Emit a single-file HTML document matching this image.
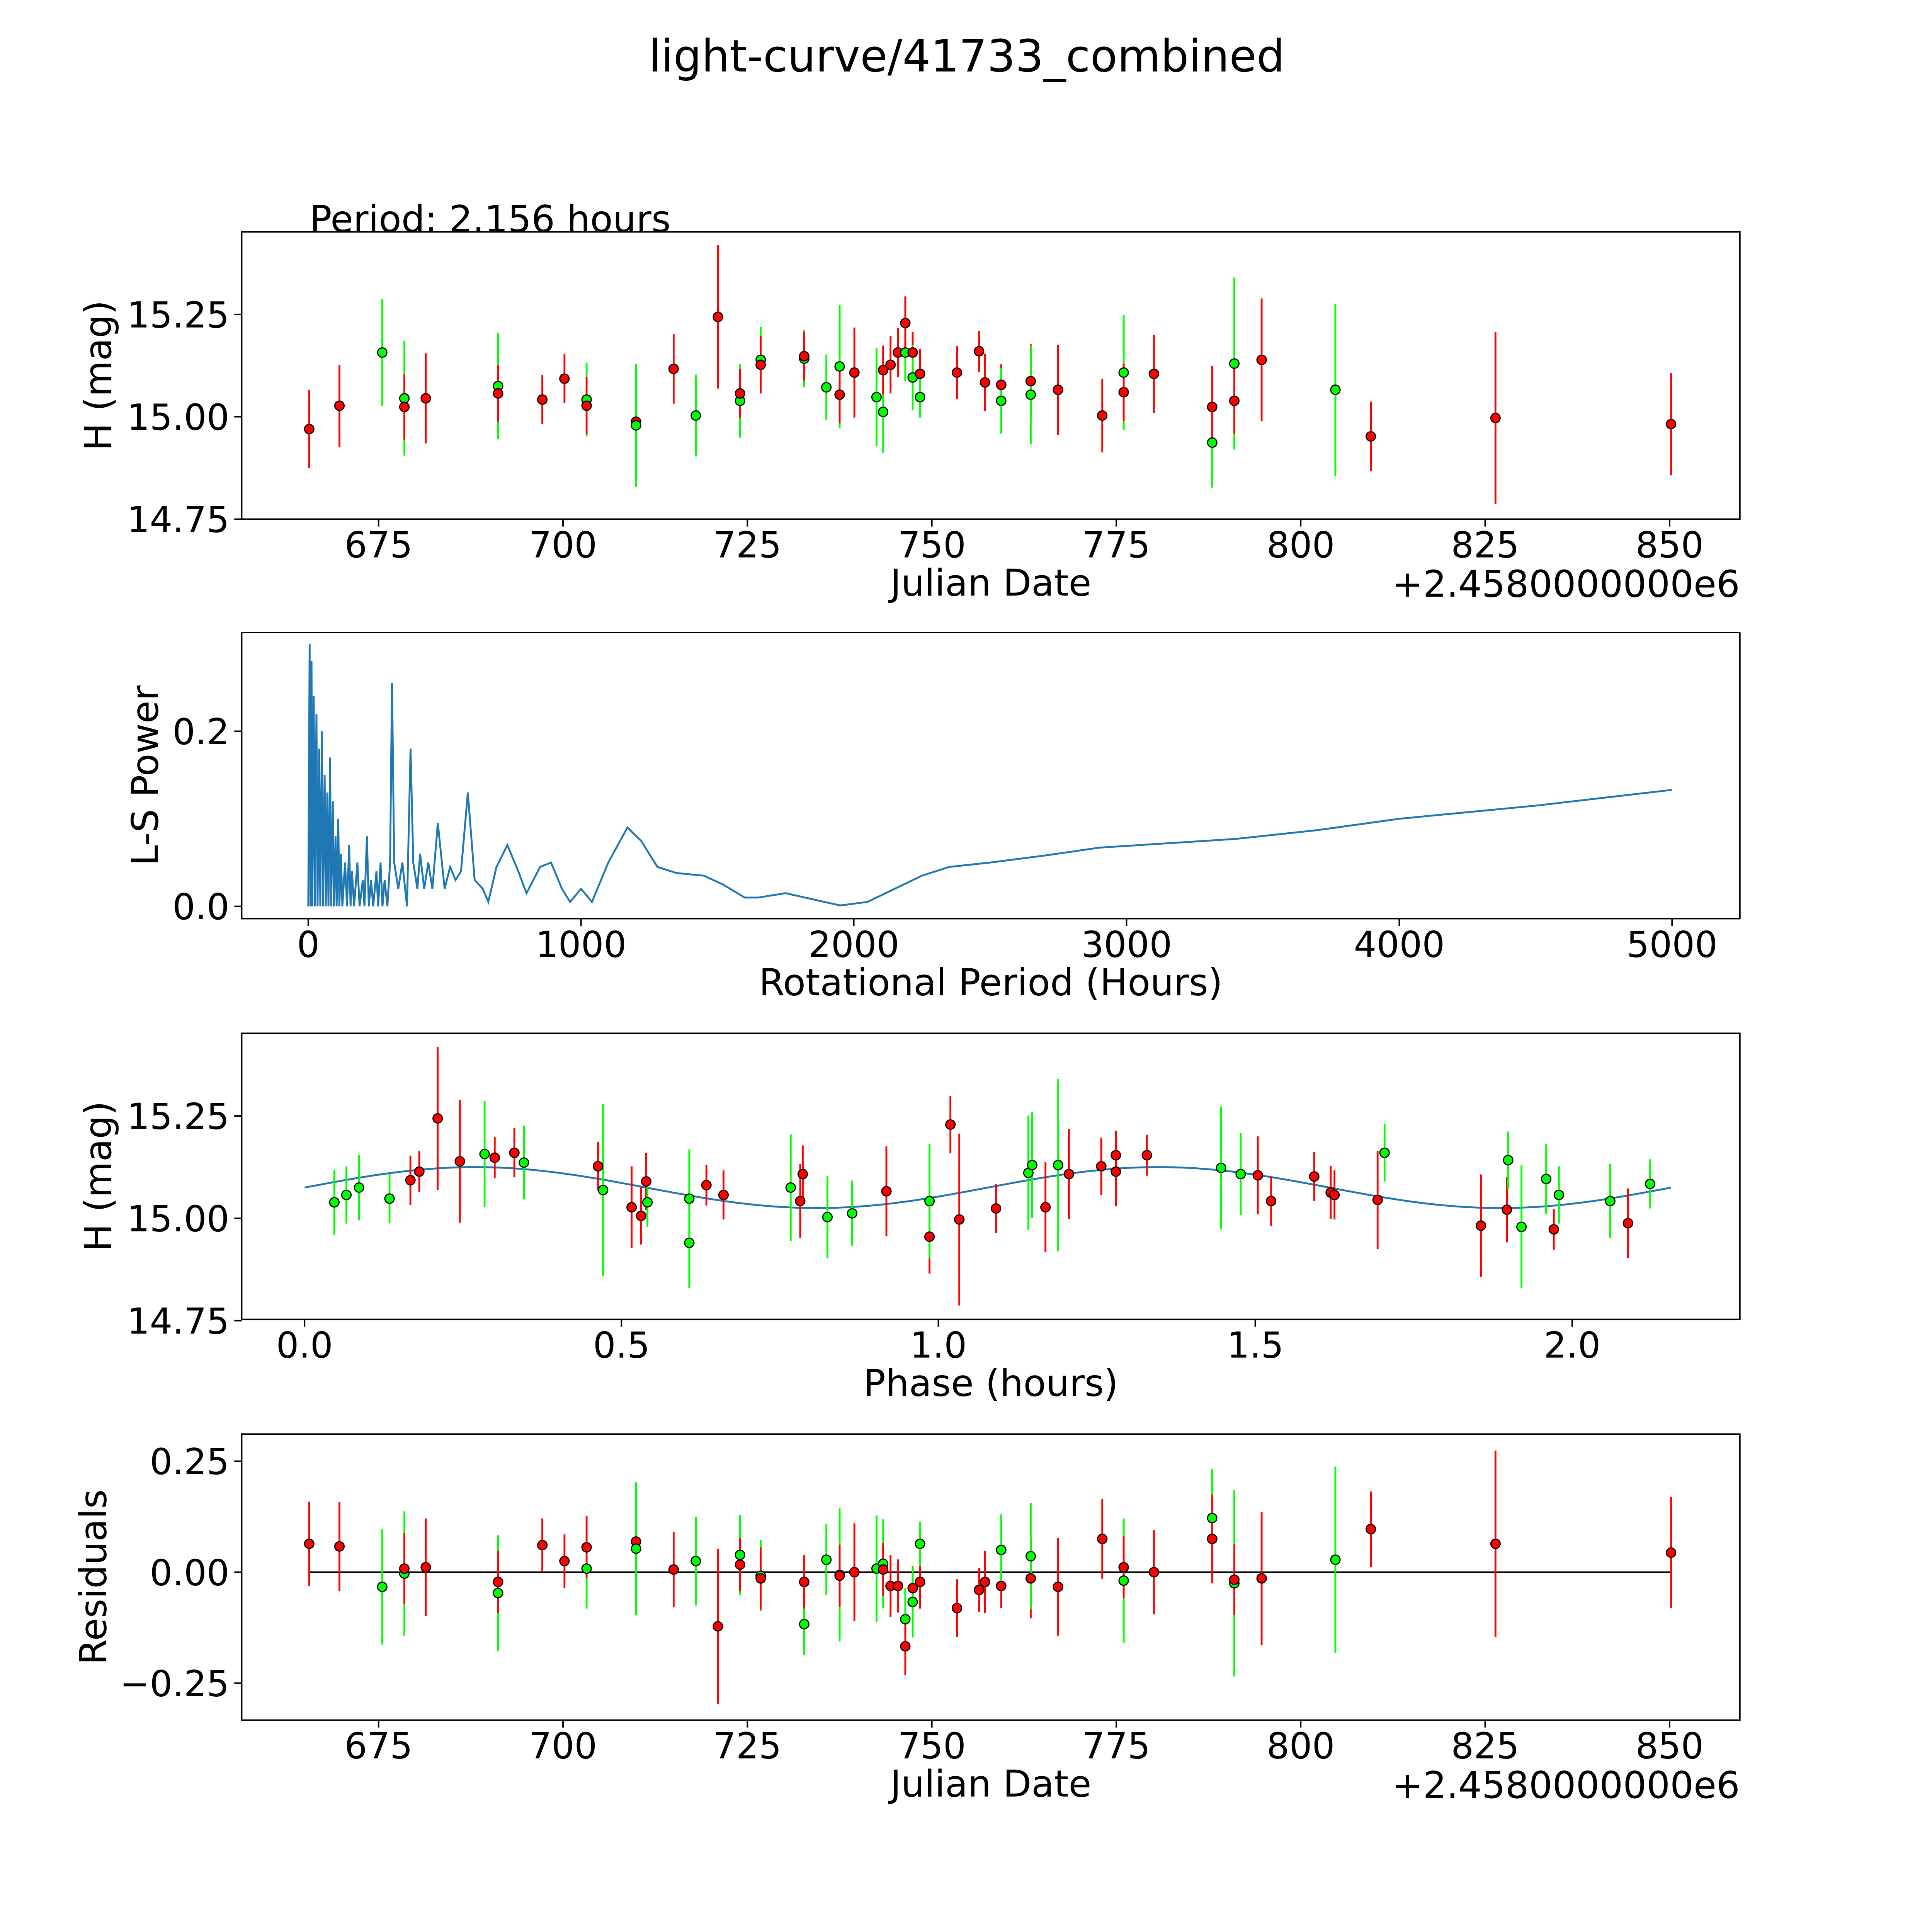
<!DOCTYPE html>
<html><head><meta charset="utf-8"><style>
html,body{margin:0;padding:0;background:#fff;width:100vw;height:100vh;overflow:hidden}
svg{display:block}
text{font-family:"DejaVu Sans","Liberation Sans",sans-serif;fill:#000}
</style></head><body>
<svg id="fig" xmlns="http://www.w3.org/2000/svg" width="4990" height="4990">
<rect width="4990" height="4990" fill="#fff"/>
<g transform="scale(3.1912)">
<text x="784" y="58" font-size="36" text-anchor="middle">light-curve/41733_combined</text>
<text x="251" y="188" font-size="30">Period: 2.156 hours</text>
<g id="g1"></g>
<g id="g2"></g>
<g id="g3"></g>
<g id="g4"></g>
</g>
</svg>
<script>
// ---- data ----
const dates=[665.6,669.7,675.5,678.5,678.5,681.4,691.2,691.2,697.2,700.2,703.2,703.2,709.9,709.9,715,718,721,724,724,726.8,726.8,732.7,732.7,735.7,737.5,737.5,739.5,742.5,743.4,743.4,744.4,745.4,746.4,746.4,747.4,747.4,748.4,748.4,753.4,756.4,757.2,759.4,759.4,763.4,763.4,767.1,773.1,776,776,780.1,788,788,791,791,794.7,804.7,809.5,826.4,850.2];
const mags=[14.97,15.027,15.157,15.045,15.024,15.045,15.075,15.057,15.042,15.093,15.042,15.027,14.988,14.979,15.117,15.003,15.244,15.039,15.057,15.139,15.127,15.142,15.148,15.072,15.123,15.054,15.108,15.048,15.012,15.114,15.127,15.157,15.157,15.229,15.157,15.096,15.105,15.048,15.108,15.16,15.084,15.078,15.039,15.087,15.054,15.066,15.003,15.108,15.06,15.105,14.937,15.024,15.13,15.039,15.139,15.066,14.952,14.997,14.982];
const errs=[0.095,0.1,0.13,0.14,0.08,0.11,0.13,0.07,0.06,0.06,0.09,0.07,0.08,0.15,0.085,0.1,0.175,0.09,0.06,0.08,0.07,0.07,0.06,0.08,0.15,0.07,0.11,0.12,0.1,0.06,0.07,0.06,0.07,0.065,0.05,0.08,0.06,0.05,0.065,0.05,0.07,0.05,0.08,0.09,0.12,0.11,0.09,0.14,0.07,0.095,0.11,0.1,0.21,0.08,0.15,0.21,0.085,0.21,0.125];
const bands="rrggrrgrrrgrrgrgrgrgrgrggrrggrrrgrrgrgrrrrgrgrrgrrgrgrrgrrr";
const resid=[0.064,0.058,-0.033,-0.003,0.008,0.011,-0.047,-0.022,0.061,0.025,0.008,0.056,0.069,0.053,0.006,0.025,-0.122,0.039,0.017,-0.008,-0.014,-0.117,-0.022,0.028,-0.006,-0.008,0,0.008,0.019,0.006,-0.031,-0.031,-0.106,-0.167,-0.036,-0.067,-0.022,0.064,-0.081,-0.04,-0.022,-0.031,0.05,-0.014,0.036,-0.033,0.075,-0.019,0.011,0,0.122,0.075,-0.025,-0.017,-0.014,0.028,0.097,0.064,0.044];
const phases=[0.047,0.066,0.086,0.134,0.167,0.181,0.21,0.245,0.284,0.3,0.331,0.346,0.463,0.471,0.516,0.531,0.539,0.541,0.607,0.607,0.634,0.661,0.767,0.782,0.786,0.825,0.864,0.918,0.986,0.986,1.019,1.033,1.091,1.142,1.148,1.169,1.189,1.206,1.257,1.28,1.28,1.329,1.446,1.477,1.504,1.525,1.593,1.619,1.625,1.704,1.693,1.856,1.897,1.899,1.92,1.959,1.971,1.979,2.06,2.088,2.123];
const phaseMags=[15.039,15.057,15.075,15.048,15.093,15.114,15.244,15.139,15.157,15.148,15.16,15.136,15.127,15.069,15.027,15.006,15.09,15.039,14.94,15.048,15.081,15.057,15.075,15.042,15.108,15.003,15.012,15.066,14.955,15.042,15.229,14.997,15.024,15.111,15.13,15.027,15.13,15.108,15.127,15.154,15.114,15.154,15.123,15.108,15.105,15.042,15.102,15.063,15.057,15.16,15.045,14.982,15.021,15.142,14.979,15.096,14.973,15.057,15.042,14.988,15.084];
const phaseBands="ggggrrrrgrrgrgrrrgggrrgrrggrrgrrrggrgrrrrrggrrrrrgrrrgggrggrgrr";
const phaseErrs=[0.08,0.07,0.08,0.06,0.06,0.05,0.175,0.15,0.13,0.05,0.06,0.09,0.06,0.21,0.1,0.07,0.07,0.06,0.11,0.12,0.05,0.06,0.13,0.09,0.07,0.1,0.08,0.11,0.09,0.14,0.07,0.21,0.06,0.14,0.13,0.11,0.21,0.11,0.07,0.06,0.085,0.05,0.15,0.1,0.095,0.06,0.06,0.065,0.06,0.07,0.12,0.125,0.08,0.07,0.15,0.085,0.05,0.07,0.09,0.085,0.06];
const fitMean=15.075, fitAmp=0.05, fitPeriod=1.078, phaseMax=2.156;
const lsPeriods=[0,5,8,12,15,20,24,30,34,40,44,50,54,60,64,70,74,80,84,90,94,100,104,110,114,120,125,135,142,150,155,160,168,180,188,200,206,215,222,230,238,250,256,265,272,280,290,300,307,315,330,345,362,375,385,400,410,425,440,455,475,500,520,540,560,585,610,640,660,690,730,770,800,850,890,930,960,1000,1040,1100,1170,1220,1280,1350,1450,1520,1600,1650,1750,1850,1950,2050,2150,2250,2350,2500,2700,2900,3100,3400,3700,4000,4500,5000];
const lsPower=[0,0.30,0,0.28,0,0.24,0,0.22,0,0.18,0,0.20,0,0.15,0,0.13,0,0.17,0,0.12,0,0.08,0,0.10,0,0.06,0,0.05,0,0.07,0,0.04,0,0.05,0,0.03,0,0.08,0,0.03,0,0.04,0,0.05,0,0.03,0,0.05,0.255,0.05,0.02,0.05,0,0.18,0.05,0.02,0.06,0.02,0.05,0.02,0.095,0.02,0.045,0.03,0.04,0.13,0.03,0.02,0.005,0.045,0.07,0.04,0.015,0.045,0.05,0.02,0.005,0.02,0.005,0.05,0.09,0.075,0.045,0.038,0.035,0.025,0.01,0.01,0.015,0.008,0.001,0.005,0.02,0.035,0.045,0.05,0.058,0.067,0.071,0.077,0.087,0.1,0.115,0.133];
const dateTicks=[675,700,725,750,775,800,825,850];
const magTicks=[15.25,15.00,14.75];
const lsXTicks=[0,1000,2000,3000,4000,5000];
const lsYTicks=[0.0,0.2];
const phaseTicks=[0.0,0.5,1.0,1.5,2.0];
const residTicks=[0.25,0.00,-0.25];
// ---- helpers ----
const NS="http://www.w3.org/2000/svg";
function mk(parent,tag,attrs){const e=document.createElementNS(NS,tag);for(const k in attrs)e.setAttribute(k,attrs[k]);parent.appendChild(e);return e;}
const COL={r:"#ff0000",g:"#00ff00"};
function lin(d0,d1,p0,p1){return v=>p0+(v-d0)*(p1-p0)/(d1-d0);}
function frame(g,x0,y0,x1,y1,xs,ys,xt,yt,xfmt,yfmt,xlab,ylab,ylabX){
  for(const t of xt){const x=xs(t);
    const l=mk(g,"line",{x1:x,x2:x,y1:y1,y2:y1+6,stroke:"#000","stroke-width":1.2});
    
    
    const tx=mk(g,"text",{x:x,y:y1+31,"font-size":29,"text-anchor":"middle"});tx.textContent=xfmt(t);
    
    }
  for(const t of yt){const y=ys(t);
    const l=mk(g,"line",{x1:x0-6,x2:x0,y1:y,y2:y,stroke:"#000","stroke-width":1.2});
    
    
    const tx=mk(g,"text",{x:x0-10,y:y+10.5,"font-size":29,"text-anchor":"end"});tx.textContent=yfmt(t);
    
    }
  const xl=mk(g,"text",{x:(x0+x1)/2,y:y1+62,"font-size":30,"text-anchor":"middle"});xl.textContent=xlab;
  
  
  const yc=(y0+y1)/2;
  const yl=mk(g,"text",{x:ylabX,y:yc,"font-size":30,"text-anchor":"middle",transform:`rotate(-90 ${ylabX} ${yc})`});yl.textContent=ylab;
  
  
}
function border(g,x0,y0,x1,y1){const r=mk(g,"rect",{x:x0,y:y0,width:x1-x0,height:y1-y0,fill:"none",stroke:"#000","stroke-width":1.2});
  
  }
function pts(g,xs,ys,X,Y,E,B){
  for(let i=0;i<X.length;i++){const x=xs(X[i]);
    const l=mk(g,"line",{x1:x,x2:x,y1:ys(Y[i]-E[i]),y2:ys(Y[i]+E[i]),stroke:COL[B[i]],"stroke-width":1.5});
    
    }
  for(let i=0;i<X.length;i++){
    const c=mk(g,"circle",{cx:xs(X[i]),cy:ys(Y[i]),r:3.8,fill:COL[B[i]],stroke:"#000","stroke-width":0.9});
    
    }
}
const f2=t=>t.toFixed(2), f1=t=>t.toFixed(1), f0=t=>String(t);
// ---- panel 1 ----
(function(){const g=document.getElementById("g1");
 const xs=lin(675,850,307,1354), ys=lin(15,15.25,338,255);
 frame(g,196,188,1411,421,xs,ys,dateTicks,magTicks,f0,f2,"Julian Date","H (mag)",90);
 const o=mk(g,"text",{x:1411,y:484,"font-size":30,"text-anchor":"end"});o.textContent="+2.4580000000e6";
 
 
 pts(g,xs,ys,dates,mags,errs,bands);border(g,196,188,1411,421);})();
// ---- panel 2 ----
(function(){const g=document.getElementById("g2");
 const xs=lin(0,5000,250,1356), ys=lin(0,0.2,735,593);
 frame(g,196,513,1411,745,xs,ys,lsXTicks,lsYTicks,f0,f1,"Rotational Period (Hours)","L-S Power",128);
 let d="";for(let i=0;i<lsPeriods.length;i++)d+=(i?"L":"M")+xs(lsPeriods[i]).toFixed(2)+","+ys(lsPower[i]).toFixed(2);
 const p=mk(g,"path",{d:d,fill:"none",stroke:"#1f77b4","stroke-width":1.5});
 
 
 border(g,196,513,1411,745);})();
// ---- panel 3 ----
(function(){const g=document.getElementById("g3");
 const xs=lin(0,2,247,1275), ys=lin(15,15.25,988,905);
 frame(g,196,838,1411,1070,xs,ys,phaseTicks,magTicks,f1,f2,"Phase (hours)","H (mag)",90);
 let d="";for(let i=0;i<=300;i++){const p=phaseMax*i/300;d+=(i?"L":"M")+xs(p).toFixed(2)+","+ys(fitMean+fitAmp*Math.sin(2*Math.PI*p/fitPeriod)).toFixed(2);}
 const c=mk(g,"path",{d:d,fill:"none",stroke:"#1f77b4","stroke-width":1.5});
 
 
 pts(g,xs,ys,phases,phaseMags,phaseErrs,phaseBands);border(g,196,838,1411,1070);})();
// ---- panel 4 ----
(function(){const g=document.getElementById("g4");
 const xs=lin(675,850,307,1354), ys=lin(0,0.25,1275,1185);
 frame(g,196,1163,1411,1395,xs,ys,dateTicks,residTicks,f0,t=>(t<0?"\u22120.25":f2(t)),"Julian Date","Residuals",86);
 const o=mk(g,"text",{x:1411,y:1458,"font-size":30,"text-anchor":"end"});o.textContent="+2.4580000000e6";
 
 
 const z=mk(g,"line",{x1:xs(dates[0]),x2:xs(dates[dates.length-1]),y1:ys(0),y2:ys(0),stroke:"#000","stroke-width":1.3});
 
 
 pts(g,xs,ys,dates,resid,errs,bands);border(g,196,1163,1411,1395);})();
</script>
</body></html>
